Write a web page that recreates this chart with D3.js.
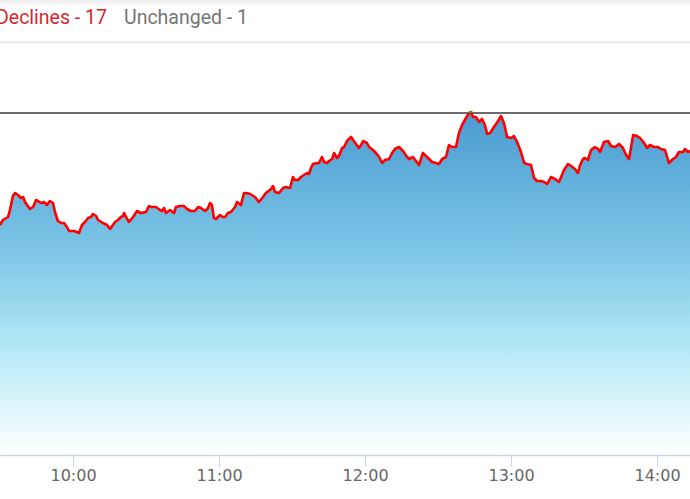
<!DOCTYPE html>
<html>
<head>
<meta charset="utf-8">
<script src="https://cdn.jsdelivr.net/npm/d3@7"></script>
<style>
html,body{margin:0;padding:0;background:#fff;overflow:hidden;}
svg{display:block;}
</style>
</head>
<body>
<svg id="chart" width="690" height="499"></svg>
<script>
// ---- data ----
const headerLabels = ["Declines - 17", "Unchanged - 1"];
const tickLabels = ["10:00", "11:00", "12:00", "13:00", "14:00"];
const prevClose = 3171;
// minutes after 09:30
const minutes = [
0,1.2,3.3,4.1,5.3,6.2,7.4,8.6,9.5,10.3,12.3,13.6,14.8,15.6,16.9,18.1,19.3,20.5,21.8,22.6,
23.8,25.1,26.3,27.5,28.4,30.4,31.6,32.5,33.7,34.9,36.2,37.4,38.2,39.5,40.3,42.3,44.0,45.2,46.4,47.3,
48.5,49.7,50.6,51.0,51.8,53.0,54.7,56.3,
57.9,60.0,61.2,62.1,64.1,65.8,66.6,67.4,68.2,69.9,71.5,72.3,74.0,75.6,76.9,78.5,80.1,81.4,82.6,84.3,
85.5,86.3,87.1,87.9,88.8,90.4,91.6,92.5,93.7,94.9,96.6,97.4,99.0,100.3,101.1,102.8,104.8,106.4,108.1,109.3,
111.4,112.2,113.0,
114.7,116.3,117.5,119.2,120.4,121.2,122.5,123.7,124.9,126.2,127.0,127.8,128.6,130.3,131.1,132.3,133.2,134.4,135.2,136.5,
137.3,138.5,139.3,140.6,141.4,142.6,143.4,144.3,145.1,146.3,147.5,148.4,149.2,150.8,151.7,153.3,154.5,155.8,157.0,158.2,
159.9,161.1,162.3,164.0,165.6,167.3,168.1,169.7,
172.2,173.8,175.5,177.6,179.2,180.4,181.7,183.3,184.5,185.8,187.4,188.6,189.9,191.5,192.8,193.6,194.4,195.6,196.9,198.1,
199.3,200.2,201.4,203.0,204.7,205.9,207.1,208.4,210.0,211.2,212.5,214.1,215.4,216.6,218.2,219.5,220.7,222.3,223.6,224.8,
225.6,226.4,
228.1,229.7,230.6,231.8,233.4,234.7,236.3,237.5,238.4,239.6,240.4,241.6,242.9,244.5,245.8,246.6,248.2,249.9,251.1,252.8,
254.4,256.0,257.3,258.5,259.3,260.2,261.8,263.0,264.7,265.9,267.1,268.8,270.4,271.6,273.3,274.9,276.6,277.8,279.0,280.7,
281.5,282.8,283.6
];
const values = [
3115,3117.5,3119,3122.5,3129.5,3131,3130,3128.5,3129,3126.5,3123,3124,3127.5,3127,3126,3126.5,3125,3127,3126,3121.5,
3117,3116,3116,3114,3112,3112,3111.5,3111,3115,3116.5,3118.5,3119,3120.5,3119.5,3117.5,3116,3115,3113,3115,3116.5,
3117.5,3119,3119.5,3121,3119,3116.5,3119,3122,
3121,3121.5,3124.5,3124,3124,3122.5,3122,3123.5,3121,3122.5,3121,3124,3124.5,3124.5,3123,3122,3122,3124,3123.5,3122,
3123.5,3126,3125,3118.5,3118,3120,3119,3119,3121,3121.5,3124,3126.5,3125,3131,3131,3130.5,3129,3126.5,3129,3131,
3133,3134.5,3131.5,
3131,3133.5,3134,3133.5,3139,3137.5,3137.5,3139,3140,3141,3140.5,3143.5,3145.5,3146,3146,3149,3146.5,3146,3147,3148,
3151,3148.5,3149.5,3153.5,3154,3157,3158,3159,3157.5,3155.5,3153.5,3155,3157,3156,3154,3152.5,3151,3149,3146,3147.5,
3148,3151,3153,3154,3152,3149,3148,3149,
3145,3151,3149,3146.5,3146,3145.5,3148,3149,3155,3154,3154,3161,3165,3168.5,3171,3171.5,3169,3169,3166.5,3168,
3165,3160.5,3161,3164,3167,3169.5,3166,3159,3158.5,3159.5,3156.5,3151.5,3146,3145.5,3145,3138.5,3137,3137,3136.5,3135.5,
3137,3139,
3138,3136.5,3139,3142.5,3145.5,3144.5,3143,3141,3145,3148,3148.5,3147.5,3152.5,3154,3153,3151.5,3156.5,3157,3154.5,3154,
3155.5,3153.5,3150,3148,3153.5,3160,3159.5,3158.5,3156,3153.5,3155,3154,3154,3153,3152.5,3146,3148,3149,3151.5,3151.5,
3153,3151.5,3152
];

// ---- chart ----
const W = 690, H = 499;
const svg = d3.select("#chart");
const open = new Date(2024, 0, 2, 9, 30, 0);
const data = minutes.map((m, i) => ({ t: new Date(+open + m * 60000), v: values[i] }));

const x = d3.scaleTime()
  .domain([open, new Date(+open + 283.56 * 60000)])
  .range([0, W]);
const plotBottom = 455;
const y = d3.scaleLinear().domain([3000, 3206.5]).range([plotBottom, 42]);

const defs = svg.append("defs");
const sh = defs.append("linearGradient").attr("id", "hdrShadow")
  .attr("x1", 0).attr("y1", 0).attr("x2", 0).attr("y2", 1);
sh.append("stop").attr("offset", 0).attr("stop-color", "#ececec");
sh.append("stop").attr("offset", 1).attr("stop-color", "#ffffff");

const g = defs.append("linearGradient").attr("id", "areaGrad")
  .attr("gradientUnits", "userSpaceOnUse")
  .attr("x1", 0).attr("x2", 0).attr("y1", y(prevClose)).attr("y2", plotBottom);
[[0, "#4a9bd1"], [0.4, "#7cc6e6"], [0.7, "#b6eaf6"], [1, "#ffffff"]].forEach(s =>
  g.append("stop").attr("offset", s[0]).attr("stop-color", s[1]));

defs.append("clipPath").attr("id", "aboveClip")
  .append("rect").attr("x", 0).attr("y", 0).attr("width", W).attr("height", y(prevClose));

// header
svg.append("rect").attr("x", 0).attr("y", 0).attr("width", W).attr("height", 7).attr("fill", "url(#hdrShadow)");
svg.append("rect").attr("x", 0).attr("y", 41.5).attr("width", W).attr("height", 1.5).attr("fill", "#e2e2e2");
svg.append("text").attr("x", -4).attr("y", 23.5)
  .attr("font-family", "Roboto").attr("font-size", 19.5).attr("fill", "#d7262e")
  .text(headerLabels[0]);
svg.append("text").attr("x", 124).attr("y", 23.5)
  .attr("font-family", "Roboto").attr("font-size", 19.5).attr("fill", "#757575")
  .text(headerLabels[1]);

// area
const area = d3.area().x(d => x(d.t)).y0(plotBottom).y1(d => y(d.v)).curve(d3.curveLinear);
svg.append("path").datum(data).attr("d", area).attr("fill", "url(#areaGrad)");

// previous close line
svg.append("line").attr("x1", 0).attr("x2", W)
  .attr("y1", y(prevClose)).attr("y2", y(prevClose))
  .attr("stroke", "#3a3a3a").attr("stroke-width", 1.5);

// price line
const line = d3.line().x(d => x(d.t)).y(d => y(d.v));
svg.append("path").datum(data).attr("d", line)
  .attr("fill", "none").attr("stroke", "#ff0000").attr("stroke-width", 2.6)
  .attr("stroke-linejoin", "round");
svg.append("path").datum(data).attr("d", line).attr("clip-path", "url(#aboveClip)")
  .attr("fill", "none").attr("stroke", "#2ca02c").attr("stroke-width", 2.6)
  .attr("stroke-linejoin", "round");

// x axis
const tickDates = tickLabels.map(s => {
  const [h, m] = s.split(":").map(Number);
  return new Date(2024, 0, 2, h, m, 0);
});
const axis = d3.axisBottom(x).tickValues(tickDates)
  .tickFormat((d, i) => tickLabels[i]).tickSize(12).tickSizeOuter(0).tickPadding(3);
const ax = svg.append("g").attr("transform", `translate(0,${plotBottom})`).call(axis);
ax.select(".domain").attr("stroke", "#ccd6eb").attr("stroke-width", 1.5);
ax.selectAll(".tick line").attr("stroke", "#ccd6eb").attr("stroke-width", 1);
ax.selectAll(".tick text").attr("fill", "#666666")
  .attr("font-family", "DejaVu Sans").attr("font-size", 16);
</script>
</body>
</html>
